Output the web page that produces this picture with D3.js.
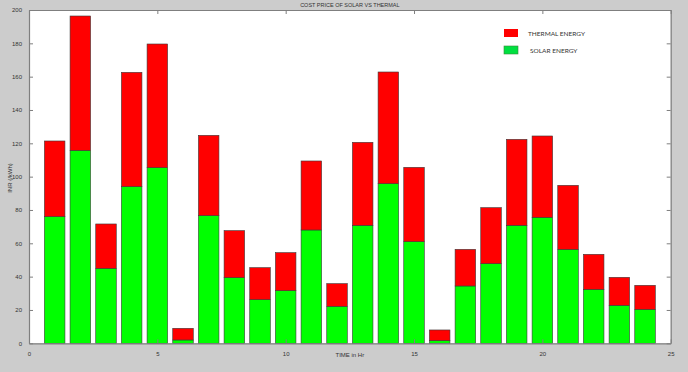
<!DOCTYPE html>
<html>
<head>
<meta charset="utf-8">
<script src="https://cdn.jsdelivr.net/npm/d3@7"></script>
<style>
  body { margin: 0; background: #cccccc; }
  svg { display: block; }
</style>
</head>
<body>
<script>
// hours of the day and cost per hour (INR/kWh)
const hours = [1, 2, 3, 4, 5, 6, 7, 8, 9, 10, 11, 12, 13, 14, 15, 16, 17, 18, 19, 20, 21, 22, 23, 24];
const solar = [76, 115.8, 45, 94, 105.4, 2, 76.6, 39.4, 26.2, 31.6, 68, 22.2,
               70.8, 95.8, 61, 1.6, 34.4, 47.8, 70.8, 75.6, 56.4, 32.4, 22.8, 20.4];
const thermal = [45.4, 80.6, 26.6, 68.6, 74.2, 7, 48.2, 28.2, 19.2, 22.8, 41.4, 13.6,
                 49.8, 67, 44.6, 6.4, 22, 33.6, 51.6, 48.8, 38.4, 21, 16.8, 14.4];
const xTicks = [0, 5, 10, 15, 20, 25];
const yTicks = [0, 20, 40, 60, 80, 100, 120, 140, 160, 180, 200];
const seriesNames = ['SOLAR ENERGY', 'THERMAL ENERGY'];

const W = 688, H = 372;
const margin = {top: 10, right: 17.3, bottom: 28.7, left: 29};
const width = W - margin.left - margin.right;
const height = H - margin.top - margin.bottom;

const colors = {'SOLAR ENERGY': '#00ff00', 'THERMAL ENERGY': '#ff0000'};

const rows = hours.map((h, i) => ({hour: h, 'SOLAR ENERGY': solar[i], 'THERMAL ENERGY': thermal[i]}));
const stacked = d3.stack().keys(seriesNames)(rows);

const svg = d3.select('body').append('svg')
    .attr('width', W)
    .attr('height', H)
    .style('font-family', 'Arial, "Liberation Sans", sans-serif');

const g = svg.append('g')
    .attr('transform', 'translate(' + margin.left + ',' + margin.top + ')');

const x = d3.scaleLinear().domain([0, 25]).range([0, width]);
const y = d3.scaleLinear().domain([0, 200]).range([height, 0]);
const barW = x(0.8) - x(0);

// plot area
g.append('rect')
    .attr('width', width)
    .attr('height', height)
    .attr('fill', '#ffffff');

// stacked bars
g.selectAll('.series')
    .data(stacked)
    .enter().append('g')
    .attr('class', 'series')
    .attr('fill', d => colors[d.key])
  .selectAll('rect')
    .data(d => d)
    .enter().append('rect')
    .attr('x', d => x(d.data.hour) - barW / 2)
    .attr('width', barW)
    .attr('y', d => y(d[1]))
    .attr('height', d => y(d[0]) - y(d[1]))
    .attr('stroke', '#3a3a3a')
    .attr('stroke-width', 0.6);

// axes, MATLAB style: ticks inside on all sides
const tickCol = '#7f7f7f';
const txtCol = '#333333';

const xAxis = g.append('g')
    .attr('transform', 'translate(0,' + height + ')')
    .call(d3.axisBottom(x).tickValues(xTicks).tickSizeInner(-4).tickSizeOuter(0).tickPadding(8));
const yAxis = g.append('g')
    .call(d3.axisLeft(y).tickValues(yTicks).tickSizeInner(-4).tickSizeOuter(0).tickPadding(7));
const xTop = g.append('g')
    .call(d3.axisTop(x).tickValues(xTicks).tickSizeInner(-4).tickSizeOuter(0).tickFormat(''));
const yRight = g.append('g')
    .attr('transform', 'translate(' + width + ',0)')
    .call(d3.axisRight(y).tickValues(yTicks).tickSizeInner(-4).tickSizeOuter(0).tickFormat(''));

[xAxis, yAxis, xTop, yRight].forEach(a => {
    a.select('.domain').attr('stroke', tickCol).attr('stroke-width', 1.2);
    a.selectAll('.tick line').attr('stroke', tickCol);
    a.selectAll('.tick text').attr('fill', txtCol).style('font-size', '6px');
});

// title and axis labels
svg.append('text')
    .attr('x', margin.left + width / 2)
    .attr('y', 7)
    .attr('text-anchor', 'middle')
    .attr('fill', txtCol)
    .style('font-size', '5.5px')
    .text('COST PRICE OF SOLAR VS THERMAL');

svg.append('text')
    .attr('x', margin.left + width / 2)
    .attr('y', 357)
    .attr('text-anchor', 'middle')
    .attr('fill', txtCol)
    .style('font-size', '6px')
    .text('TIME in Hr');

svg.append('text')
    .attr('transform', 'translate(12,178) rotate(-90)')
    .attr('text-anchor', 'middle')
    .attr('fill', txtCol)
    .style('font-size', '6px')
    .text('INR (/kWh)');

// legend
const legend = svg.append('g')
    .attr('transform', 'translate(504,29)')
    .style('font-family', 'Lato, "Open Sans", sans-serif');
const legendItems = ['THERMAL ENERGY', 'SOLAR ENERGY'];
legendItems.forEach((name, i) => {
    const row = legend.append('g').attr('transform', 'translate(0,' + (i * 17) + ')');
    row.append('rect')
        .attr('width', 14)
        .attr('height', 8)
        .attr('fill', name === 'SOLAR ENERGY' ? '#00e040' : '#ff0000')
        .attr('stroke', name === 'SOLAR ENERGY' ? '#3a8a3a' : 'none')
        .attr('stroke-width', 0.6);
    row.append('text')
        .attr('x', i === 0 ? 24 : 26)
        .attr('y', 6.5)
        .attr('fill', txtCol)
        .style('font-size', '6.5px')
        .text(name);
});
</script>
</body>
</html>
